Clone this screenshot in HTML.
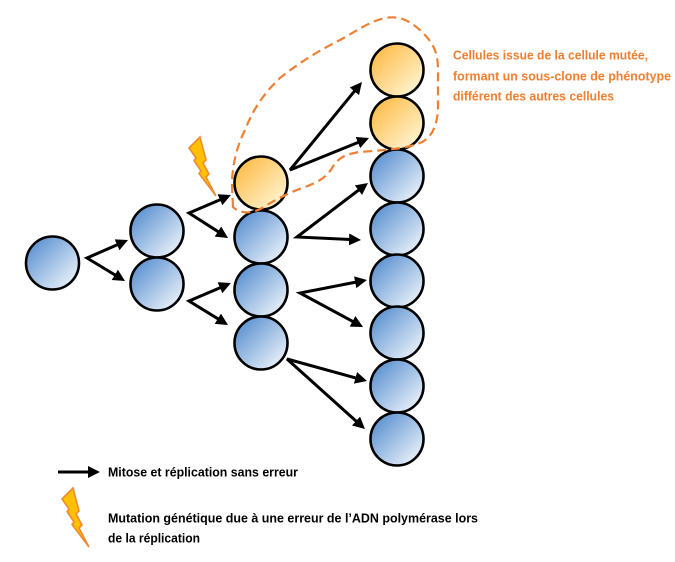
<!DOCTYPE html>
<html><head><meta charset="utf-8"><style>
html,body{margin:0;padding:0;background:#fff;}
svg{display:block;}
text{font-family:"Liberation Sans",sans-serif;font-weight:bold;}
</style></head><body>
<svg width="675" height="562" viewBox="0 0 675 562" xmlns="http://www.w3.org/2000/svg">
<defs>
<linearGradient id="gb" x1="0.15" y1="0.15" x2="0.85" y2="0.85">
<stop offset="0" stop-color="#6396d3"/><stop offset="1" stop-color="#e2ecf7"/>
</linearGradient>
<linearGradient id="go" x1="0.15" y1="0.15" x2="0.85" y2="0.85">
<stop offset="0" stop-color="#fdbf50"/><stop offset="1" stop-color="#fff1cb"/>
</linearGradient>
<marker id="ah" markerUnits="userSpaceOnUse" markerWidth="14" markerHeight="14" refX="4" refY="6" orient="auto-start-reverse">
<path d="M0,0 L12,6 L0,12 z" fill="#000"/>
</marker>
</defs>

<g stroke="#000" stroke-width="3" fill="none" stroke-linejoin="miter" marker-start="url(#ah)" marker-end="url(#ah)">
<polyline points="120.7,243.2 87,258 118.2,276.9"/>
<polyline points="223.6,198.2 189,213 221.3,233.7"/>
<polyline points="223.6,286.2 189,301 221.2,320.8"/>
<polyline points="356.9,88.2 290,170 361.6,141"/>
<polyline points="361.6,187.8 297,237 353,239.6"/>
<polyline points="359.1,281.5 300,293 356,323.2"/>
<polyline points="359.3,378.9 287,359 359,423.7"/>
</g>
<line x1="58" y1="472" x2="92" y2="472" stroke="#000" stroke-width="3" marker-end="url(#ah)"/>

<g stroke="#000" stroke-width="2.6">
<circle cx="52.5" cy="263" r="26.5" fill="url(#gb)"/>
<circle cx="157" cy="231" r="26.5" fill="url(#gb)"/>
<circle cx="157" cy="284" r="26.5" fill="url(#gb)"/>
<circle cx="261" cy="183" r="26.5" fill="url(#go)"/>
<circle cx="261" cy="237" r="26.5" fill="url(#gb)"/>
<circle cx="261" cy="290" r="26.5" fill="url(#gb)"/>
<circle cx="261" cy="343" r="26.5" fill="url(#gb)"/>
<circle cx="397" cy="70" r="26.5" fill="url(#go)"/>
<circle cx="397" cy="123" r="26.5" fill="url(#go)"/>
<circle cx="397" cy="176" r="26.5" fill="url(#gb)"/>
<circle cx="397" cy="229" r="26.5" fill="url(#gb)"/>
<circle cx="397" cy="281" r="26.5" fill="url(#gb)"/>
<circle cx="397" cy="333" r="26.5" fill="url(#gb)"/>
<circle cx="397" cy="386" r="26.5" fill="url(#gb)"/>
<circle cx="397" cy="439" r="26.5" fill="url(#gb)"/>
</g>

<path d="M233,207 L232,185 C232,170 235,150 245,130 C252,112 262,95 280,78 C300,62 320,50 340,40 C355,32 368,22 385,18 C400,15 412,22 422,32 C432,42 438,50 438,70 L438,105 C438,125 432,138 420,143 C405,149 385,150 360,152 C345,154 338,158 332,168 C326,178 318,182 305,187 C290,192 275,200 262,208 C252,214 240,214 233,207 Z" fill="none" stroke="#ee8033" stroke-width="2.2" stroke-dasharray="9,5"/>

<polygon points="200,137 189,148 196,158 194,160.5 201,171 199,173.5 216,196 206,177 209,174 203,163 206,160" fill="#ffc000" stroke="#f08a30" stroke-width="1.6" stroke-linejoin="miter"/>
<polygon transform="translate(-127,351)" points="200,137 189,148 196,158 194,160.5 201,171 199,173.5 216,196 206,177 209,174 203,163 206,160" fill="#ffc000" stroke="#f08a30" stroke-width="1.6" stroke-linejoin="miter"/>

<g fill="#f07f30" font-size="12.5">
<text x="453" y="59.5" textLength="195" lengthAdjust="spacingAndGlyphs">Cellules issue de la cellule mutée,</text>
<text x="453" y="80.5" textLength="218" lengthAdjust="spacingAndGlyphs">formant un sous-clone de phénotype</text>
<text x="453" y="100.5" textLength="161" lengthAdjust="spacingAndGlyphs">différent des autres cellules</text>
</g>
<g fill="#000" font-size="12.5">
<text x="108" y="476.5" textLength="190" lengthAdjust="spacingAndGlyphs">Mitose et réplication sans erreur</text>
<text x="108" y="522.5" textLength="370" lengthAdjust="spacingAndGlyphs">Mutation génétique due à une erreur de l’ADN polymérase lors</text>
<text x="108" y="542.5" textLength="92" lengthAdjust="spacingAndGlyphs">de la réplication</text>
</g>
</svg>
</body></html>
